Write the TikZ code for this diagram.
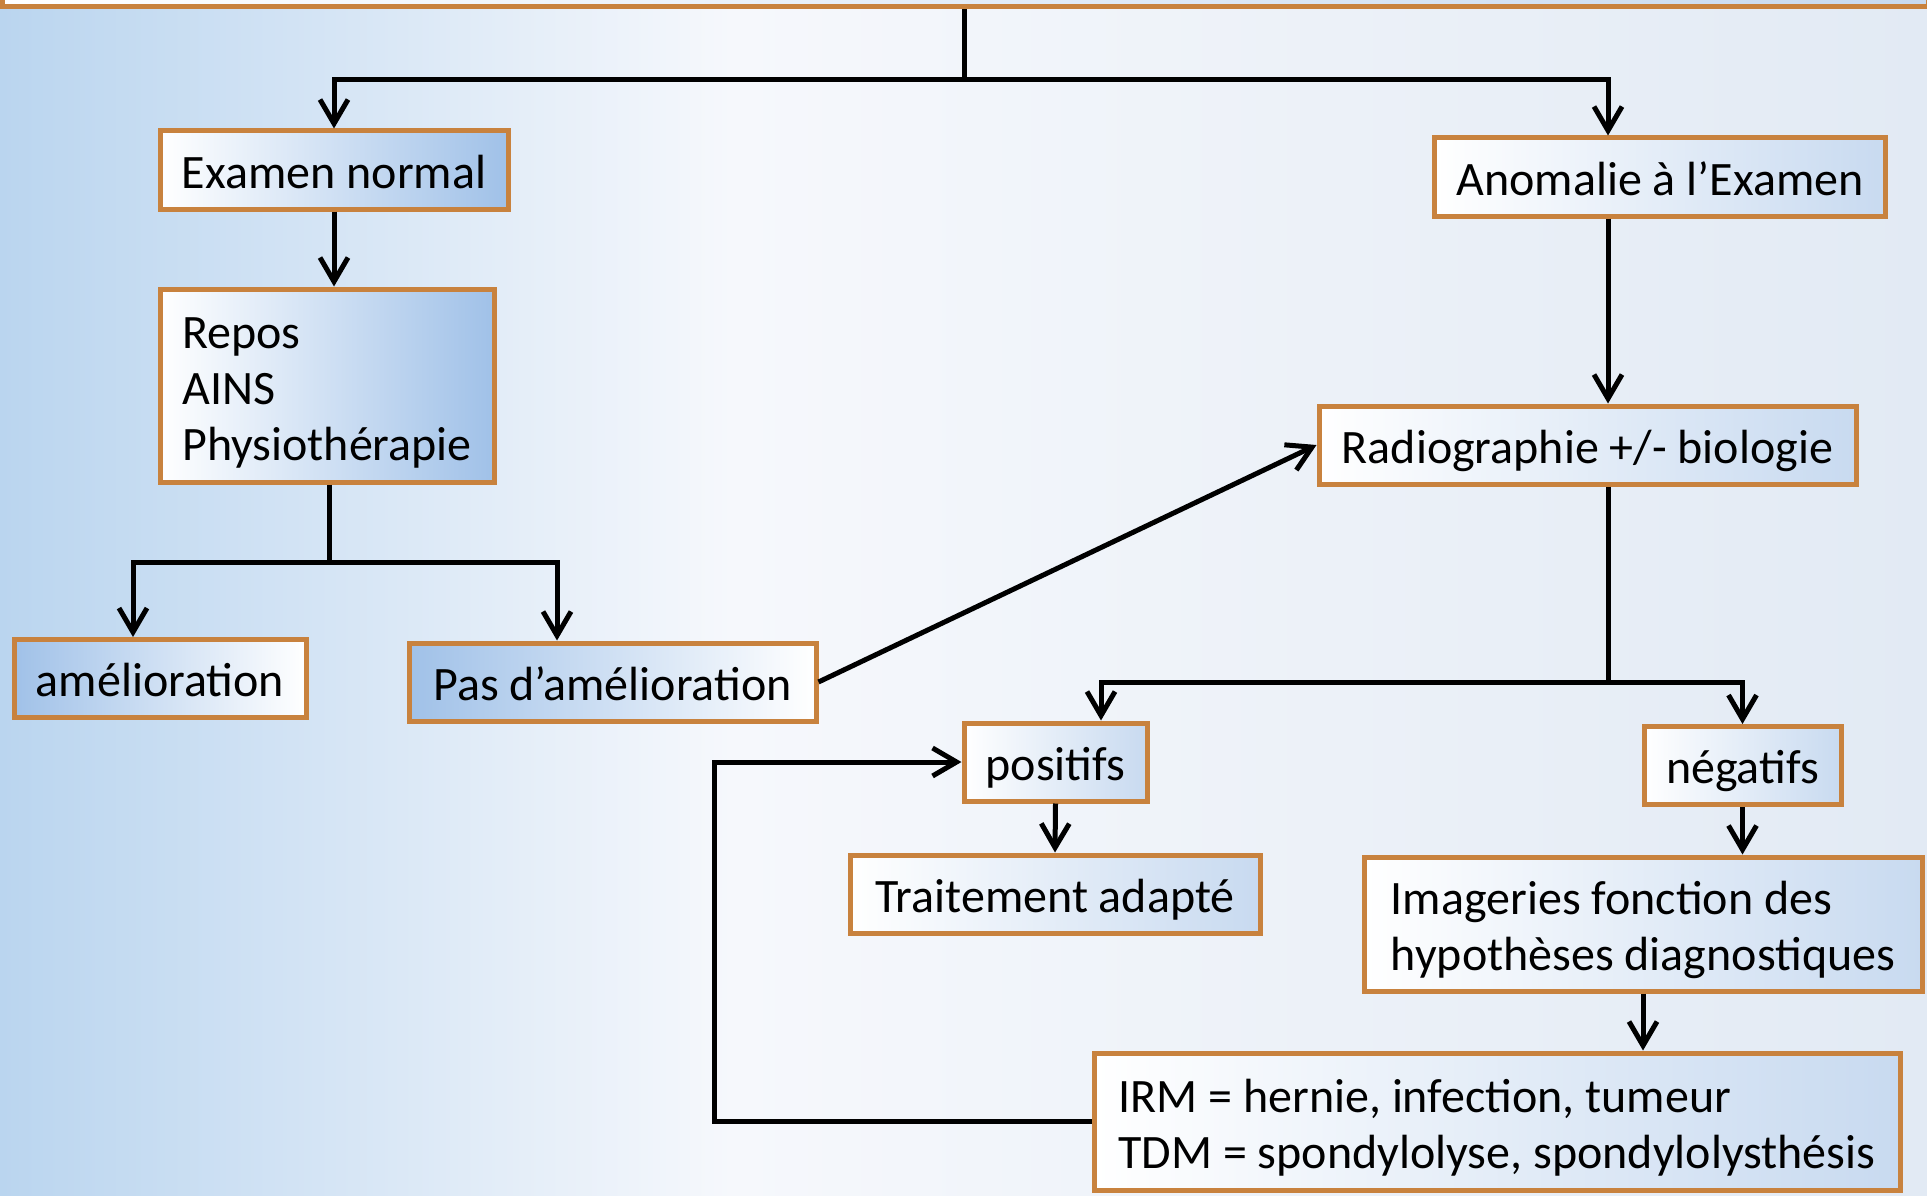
\documentclass[tikz,border=0pt]{standalone}
\usepackage{fontspec}
\setmainfont{Carlito}
\usetikzlibrary{arrows.meta}
\definecolor{boxbord}{RGB}{200,130,62}
\definecolor{boxblue}{RGB}{160,193,232}
\definecolor{boxpale}{RGB}{200,218,240}
\definecolor{bgleft}{RGB}{186,213,239}
\definecolor{bgmid}{RGB}{246,248,252}
\definecolor{bgright}{RGB}{226,234,244}
\pgfdeclarehorizontalshading{bgshade}{100bp}{color(0bp)=(bgleft); color(25bp)=(bgleft); color(44bp)=(bgmid); color(75bp)=(bgright); color(100bp)=(bgright)}
\newcommand{\topgap}{\rule{0pt}{46pt}}

\begin{document}
\begin{tikzpicture}[x=1pt,y=-1pt,font=\fontsize{48}{56}\selectfont,box/.style={draw=boxbord,line width=5pt,minimum height=78pt,inner xsep=21pt,inner ysep=0pt},fR/.style={left color=white,right color=boxblue},fL/.style={left color=boxblue,right color=white},fS/.style={left color=white,right color=boxpale},one/.style={text height=40pt,text depth=4pt},link/.style={line width=5pt},arr/.style={link,-{Straight Barb[length=24pt,width=28pt]}}]
\useasboundingbox (0,0) rectangle (1927,1196);
\clip (0,0) rectangle (1927,1196);
\shade[shading=bgshade] (0,0) rectangle (1927,1196);

\node[box,fS,minimum width=1926pt,minimum height=74pt] (titre) at (965,-30) {};

\node[box,fR,one,minimum width=348pt] (examen) at (334,170) {Examen normal};
\node[box,fS,one,minimum width=451pt] (anomalie) at (1660,177) {Anomalie à l’Examen};
\node[box,fR,align=left,minimum width=334pt,minimum height=193pt] (repos) at (327,385.5) {\topgap Repos\\AINS\\Physiothérapie};
\node[box,fL,one,minimum width=292pt] (amel) at (160,678.5) {amélioration};
\node[box,fL,one,minimum width=407pt] (pas) at (612.5,682) {Pas d’amélioration};
\node[box,fS,one,minimum width=537pt] (radio) at (1587.5,445) {Radiographie +/- biologie};
\node[box,fS,one,minimum width=183pt] (positifs) at (1055.5,762) {positifs};
\node[box,fS,one,minimum width=197pt] (negatifs) at (1742.5,765.5) {négatifs};
\node[box,fS,one,minimum width=410pt] (traitement) at (1055,894) {Traitement adapté};
\node[box,fS,align=left,minimum width=558pt,minimum height=134pt] (imageries) at (1643,924) {\topgap Imageries fonction des\\hypothèses diagnostiques};
\node[box,fS,align=left,minimum width=806pt,minimum height=137pt] (irm) at (1497,1121.5) {\topgap IRM = hernie, infection, tumeur\\TDM = spondylolyse, spondylolysthésis};

% branch points
\coordinate (j1) at (964,80);
\coordinate (j1r) at (1608,80);
\coordinate (j2) at (329,562);
\coordinate (j2l) at (133,562);
\coordinate (j2r) at (557,562);
\coordinate (j3) at (1608,682);
\coordinate (j3l) at (1101,682);
\coordinate (j4) at (714,1121.5);

\draw[link] (titre.south -| j1) -- (j1);
\draw[arr] (j1) -| (examen.north);
\draw[arr] (j1) -| (j1r |- anomalie.north);
\draw[arr] (examen.south) -- (examen.south |- repos.north);
\draw[link] (j2 |- repos.south) -- (j2);
\draw[arr] (j2) -| (j2l |- amel.north);
\draw[arr] (j2) -| (j2r |- pas.north);
\draw[arr] (pas.east) -- (radio.west);
\draw[arr] (j1r |- anomalie.south) -- (j1r |- radio.north);
\draw[link] (j3 |- radio.south) -- (j3);
\draw[arr] (j3) -| (j3l |- positifs.north);
\draw[arr] (j3) -| (negatifs.north);
\draw[arr] (positifs.south) -- (traitement.north);
\draw[arr] (negatifs.south) -- (negatifs.south |- imageries.north);
\draw[arr] (imageries.south) -- (imageries.south |- irm.north);
\draw[arr] (irm.west) -- (j4) |- (positifs.west);

\end{tikzpicture}
\end{document}
